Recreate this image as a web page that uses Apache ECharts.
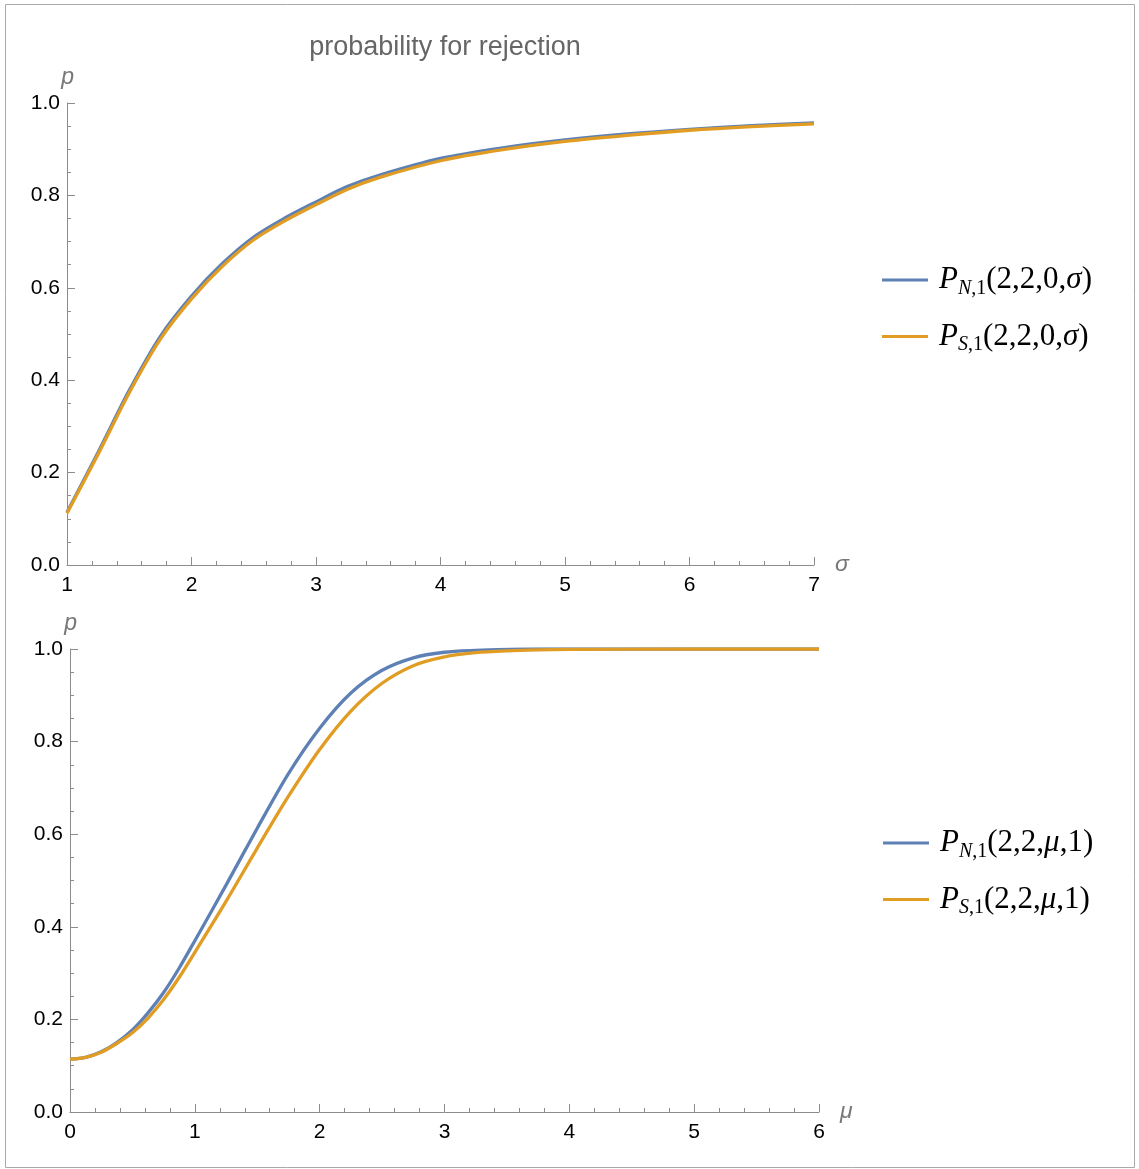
<!DOCTYPE html>
<html>
<head>
<meta charset="utf-8">
<script src="https://cdn.jsdelivr.net/npm/echarts@6/dist/echarts.min.js"></script>
<style>
html,body{margin:0;padding:0;background:#fff;}
#c{width:1139px;height:1169px;}
</style>
</head>
<body>
<div id="c"></div>
<script>
// ---- data ----
var titleText = 'probability for rejection';
var sigma = [1, 1.25, 1.5, 1.75, 2, 2.25, 2.5, 2.75, 3, 3.25, 3.5, 4, 4.5, 5, 5.5, 6, 6.5, 7];
var pN_sigma = [0.114, 0.244, 0.378, 0.495, 0.582, 0.653, 0.710, 0.751, 0.786, 0.819, 0.843, 0.880, 0.903, 0.920, 0.933, 0.943, 0.951, 0.957];
var pS_sigma = [0.112, 0.240, 0.373, 0.489, 0.576, 0.647, 0.704, 0.745, 0.780, 0.813, 0.838, 0.875, 0.899, 0.917, 0.930, 0.941, 0.949, 0.955];
var mu = [0, 0.125, 0.25, 0.375, 0.5, 0.625, 0.75, 0.875, 1, 1.25, 1.5, 1.75, 2, 2.25, 2.5, 2.75, 3, 3.25, 3.5, 3.75, 4, 5, 6];
var pN_mu = [0.114, 0.118, 0.130, 0.150, 0.177, 0.214, 0.258, 0.311, 0.370, 0.490, 0.613, 0.731, 0.829, 0.905, 0.954, 0.981, 0.993, 0.997, 0.999, 1.0, 1.0, 1.0, 1.0];
var pS_mu = [0.114, 0.118, 0.129, 0.148, 0.171, 0.203, 0.243, 0.291, 0.345, 0.455, 0.570, 0.682, 0.783, 0.866, 0.926, 0.964, 0.983, 0.992, 0.996, 0.998, 0.999, 1.0, 1.0];
var sigmaTicks = {min: 1, max: 7, interval: 1, minor: 0.2};
var muTicks = {min: 0, max: 6, interval: 1, minor: 0.2};
var pTicks = {min: 0, max: 1, interval: 0.2, minor: 0.05};
var legendLabels = {
  'PN_sigma': '{sp|}{P|P}{si|N}{su|,1}{t|(2,2,0,}{g|σ}{t|)}',
  'PS_sigma': '{sp|}{P|P}{si|S}{su|,1}{t|(2,2,0,}{g|σ}{t|)}',
  'PN_mu': '{sp|}{P|P}{si|N}{su|,1}{t|(2,2,}{g|μ}{t|,1)}',
  'PS_mu': '{sp|}{P|P}{si|S}{su|,1}{t|(2,2,}{g|μ}{t|,1)}'
};

function zip(xs, ys) { return xs.map(function (x, i) { return [x, ys[i]]; }); }

var BLUE = '#5E81B5', ORANGE = '#E19C24', AXIS = '#8c8c8c';
var sans = '"Liberation Sans", Arial, sans-serif';
var serif = '"Liberation Serif", "DejaVu Serif", serif';
var rich = {
  sp: {width: 6},
  P: {fontFamily: serif, fontStyle: 'italic', fontSize: 31, color: '#000'},
  si: {fontFamily: serif, fontStyle: 'italic', fontSize: 20, color: '#000', padding: [17, 0, 0, 0]},
  su: {fontFamily: serif, fontSize: 20, color: '#000', padding: [17, 0, 0, 0]},
  t: {fontFamily: serif, fontSize: 31, color: '#000'},
  g: {fontFamily: serif, fontStyle: 'italic', fontSize: 31, color: '#000'}
};

function xAxisDef(idx, t, name) {
  return {
    type: 'value', gridIndex: idx, min: t.min, max: t.max, interval: t.interval,
    name: name, nameLocation: 'end', nameGap: 21,
    nameTextStyle: {fontFamily: sans, fontStyle: 'italic', fontSize: 23, color: '#777', verticalAlign: 'middle'},
    axisLine: {show: true, lineStyle: {color: AXIS, width: 1}},
    axisTick: {show: true, inside: true, length: 8, lineStyle: {color: AXIS}},
    axisLabel: {fontFamily: sans, fontSize: 21, color: '#000', margin: 10},
    splitLine: {show: false}
  };
}
function xMinorDef(idx, t) {
  return {
    type: 'value', gridIndex: idx, min: t.min, max: t.max, interval: t.minor, position: 'bottom',
    axisLine: {show: false}, axisLabel: {show: false}, splitLine: {show: false},
    axisTick: {show: true, inside: true, length: 4, lineStyle: {color: AXIS}}
  };
}
function yAxisDef(idx, t) {
  return {
    type: 'value', gridIndex: idx, min: t.min, max: t.max, interval: t.interval,
    name: 'p', nameLocation: 'end', nameGap: 14,
    nameTextStyle: {fontFamily: sans, fontStyle: 'italic', fontSize: 23, color: '#777', align: 'right', padding: [0, -7, 0, 0]},
    axisLine: {show: true, lineStyle: {color: AXIS, width: 1}},
    axisTick: {show: true, inside: true, length: 8, lineStyle: {color: AXIS}},
    axisLabel: {fontFamily: sans, fontSize: 21, color: '#000', margin: 7,
      formatter: function (v) { return v.toFixed(1); }},
    splitLine: {show: false}
  };
}
function yMinorDef(idx, t) {
  return {
    type: 'value', gridIndex: idx, min: t.min, max: t.max, interval: t.minor, position: 'left',
    axisLine: {show: false}, axisLabel: {show: false}, splitLine: {show: false},
    axisTick: {show: true, inside: true, length: 4, lineStyle: {color: AXIS}}
  };
}
function lineSeries(name, xi, data, color) {
  return {
    name: name, type: 'line', xAxisIndex: xi, yAxisIndex: xi, data: data,
    smooth: 0.3, showSymbol: false, symbol: 'none',
    lineStyle: {color: color, width: 3.3}, itemStyle: {color: color},
    emphasis: {disabled: true}, animation: false, z: color === BLUE ? 2 : 3
  };
}
function legendDef(names, left, top) {
  return {
    data: names, orient: 'vertical', left: left, top: top, itemGap: 20,
    icon: 'rect', itemWidth: 46, itemHeight: 3,
    formatter: function (n) { return legendLabels[n]; },
    textStyle: {rich: rich, fontSize: 31, lineHeight: 36}
  };
}

var chart = echarts.init(document.getElementById('c'), null, {renderer: 'canvas'});
chart.setOption({
  animation: false,
  backgroundColor: '#fff',
  title: {text: titleText, left: 440, top: 29, textAlign: 'center',
    textStyle: {fontFamily: sans, fontWeight: 'normal', fontSize: 27, color: '#666'}},
  grid: [
    {left: 67, top: 103, width: 747, height: 462},
    {left: 70, top: 649, width: 749, height: 463}
  ],
  xAxis: [xAxisDef(0, sigmaTicks, 'σ'), xAxisDef(1, muTicks, 'μ'), xMinorDef(0, sigmaTicks), xMinorDef(1, muTicks)],
  yAxis: [yAxisDef(0, pTicks), yAxisDef(1, pTicks), yMinorDef(0, pTicks), yMinorDef(1, pTicks)],
  legend: [
    legendDef(['PN_sigma', 'PS_sigma'], 877, 257),
    legendDef(['PN_mu', 'PS_mu'], 878, 820)
  ],
  series: [
    lineSeries('PN_sigma', 0, zip(sigma, pN_sigma), BLUE),
    lineSeries('PS_sigma', 0, zip(sigma, pS_sigma), ORANGE),
    lineSeries('PN_mu', 1, zip(mu, pN_mu), BLUE),
    lineSeries('PS_mu', 1, zip(mu, pS_mu), ORANGE)
  ],
  graphic: [{type: 'rect', shape: {x: 5.5, y: 4.5, width: 1129, height: 1163},
    style: {fill: 'none', stroke: '#aaa', lineWidth: 1}, silent: true}]
});
</script>
</body>
</html>
